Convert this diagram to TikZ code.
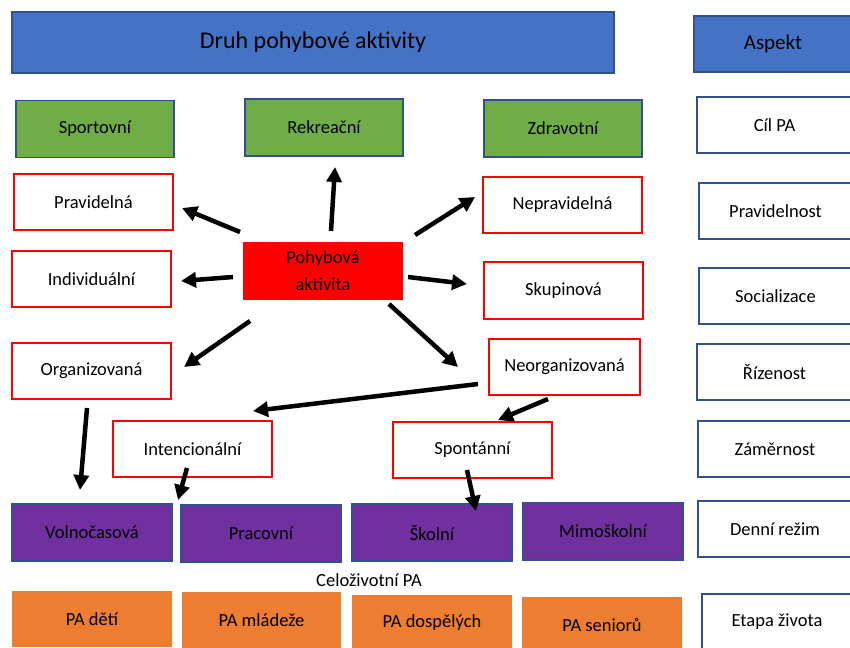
\documentclass[tikz,border=0pt]{standalone}
\usepackage{fontspec}
\setmainfont{Carlito}
\usetikzlibrary{arrows.meta}
\definecolor{hblue}{HTML}{4472C4}
\definecolor{hborder}{HTML}{2F528F}
\definecolor{hgreen}{HTML}{70AD47}
\definecolor{hpurple}{HTML}{7030A0}
\definecolor{horange}{HTML}{ED7D31}
\definecolor{hred}{HTML}{FF0000}
\tikzset{
  base/.style={rectangle, inner sep=0pt, align=center, font=\fontsize{18.5}{27}\selectfont, text=black},
  bluebox/.style={base, fill=hblue, draw=hborder, line width=1.5pt},
  greenbox/.style={base, fill=hgreen, draw=hborder, line width=1.5pt, minimum width=158pt, minimum height=57pt},
  redbox/.style={base, fill=white, draw=hred, line width=2pt, minimum width=159pt, minimum height=56pt},
  aspbox/.style={base, fill=white, draw=hborder, line width=1.5pt, minimum width=155pt, minimum height=56pt},
  purplebox/.style={base, fill=hpurple, draw=hborder, line width=1.2pt, minimum width=160pt, minimum height=57pt},
  orangebox/.style={base, fill=horange, minimum width=160pt, minimum height=56pt},
  arr/.style={line width=4.5pt, -{Triangle[length=15pt,width=15pt]}}
}
\begin{document}
\begin{tikzpicture}[x=1pt,y=-1pt]
\useasboundingbox (0,0) rectangle (850,647);
\clip (0,0) rectangle (850,647);
% header
\node[bluebox, minimum width=602pt, minimum height=61pt, font=\fontsize{24}{28}\selectfont] (druh) at (313,42.5) {Druh pohybové aktivity};
\node[bluebox, minimum width=158pt, minimum height=56pt, font=\fontsize{21}{25}\selectfont] (aspekt) at (773,44) {Aspekt};
% green
\node[greenbox] (sport) at (95,129) {Sportovní};
\node[greenbox] (rekr) at (324,127.5) {Rekreační};
\node[greenbox] (zdrav) at (563,128.5) {Zdravotní};
% red boxes
\node[redbox] (prav) at (93.5,202) {Pravidelná};
\node[redbox] (indiv) at (91.5,279) {Individuální};
\node[redbox] (org) at (91.5,371) {Organizovaná};
\node[redbox] (neprav) at (562.5,205) {Nepravidelná};
\node[redbox, minimum height=57pt] (skup) at (563.5,290.5) {Skupinová};
\node[redbox, minimum width=151pt] (neorg) at (564.5,367) {Neorganizovaná};
\node[redbox] (intenc) at (192.5,449) {Intencionální};
\node[redbox] (spont) at (472.5,450) {Spontánní};
\node[base, fill=hred, minimum width=160pt, minimum height=58pt] (pa) at (323,271) {Pohybová\\aktivita};
% aspects column
\node[aspbox] (cil) at (774.5,125) {Cíl PA};
\node[aspbox, minimum width=153pt] (pravid) at (775.5,211) {Pravidelnost};
\node[aspbox, minimum width=153pt] (social) at (775.5,296) {Socializace};
\node[aspbox] (rizen) at (774.5,372) {Řízenost};
\node[aspbox, minimum width=154pt] (zamer) at (775,449) {Záměrnost};
\node[aspbox, minimum width=154pt] (denni) at (775,529) {Denní režim};
\node[aspbox, minimum width=150pt, minimum height=56pt] (etapa) at (777,622) {Etapa života};
% purple
\node[purplebox] (volno) at (92,532.5) {Volnočasová};
\node[purplebox] (prac) at (261,533.5) {Pracovní};
\node[purplebox] (skol) at (432,532.5) {Školní};
\node[purplebox] (mimo) at (603,531.5) {Mimoškolní};
% lifelong
\node[base] (celo) at (369,580) {Celoživotní PA};
\node[orangebox] (deti) at (92,619) {PA dětí};
\node[orangebox, minimum width=159pt] (mlad) at (261.5,620) {PA mládeže};
\node[orangebox] (dosp) at (432,623) {PA dospělých};
\node[orangebox] (sen) at (602,625) {PA seniorů};
% arrow end points
\coordinate (a1s) at (240,232); \coordinate (a1e) at (182,208);
\coordinate (a2s) at (233,277); \coordinate (a2e) at (181,281);
\coordinate (a3s) at (250,321); \coordinate (a3e) at (184,367);
\coordinate (a4s) at (331,231); \coordinate (a4e) at (335,167);
\coordinate (a5s) at (415,235); \coordinate (a5e) at (475,197);
\coordinate (a6s) at (408,277); \coordinate (a6e) at (467,284);
\coordinate (a7s) at (389,304); \coordinate (a7e) at (458,367);
\coordinate (a8s) at (478,384); \coordinate (a8e) at (253,411);
\coordinate (a9s) at (548,399); \coordinate (a9e) at (498,420);
\coordinate (a10s) at (87,408); \coordinate (a10e) at (80,490);
\coordinate (a11s) at (187,468); \coordinate (a11e) at (178,500);
\coordinate (a12s) at (467,470); \coordinate (a12e) at (476,511);
\foreach \i in {1,...,12} { \draw[arr] (a\i s) -- (a\i e); }
\end{tikzpicture}
\end{document}
